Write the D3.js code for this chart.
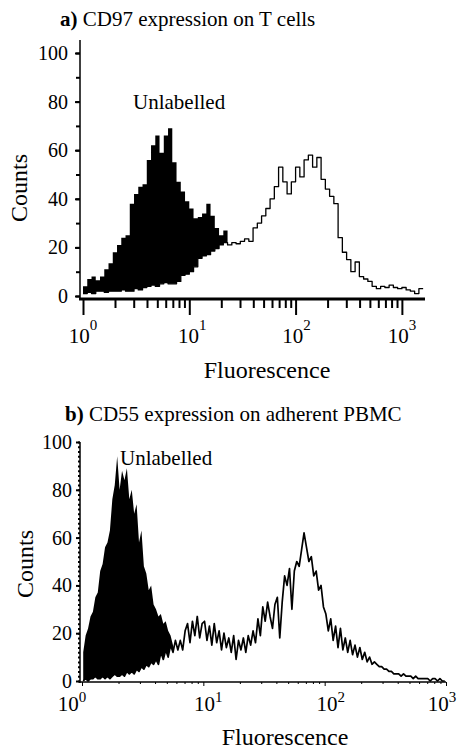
<!DOCTYPE html>
<html>
<head>
<meta charset="utf-8">
<script src="https://cdnjs.cloudflare.com/ajax/libs/d3/7.8.5/d3.min.js"></script>
<style>
  body { margin: 0; background: #fff; }
  svg text { font-family: 'Liberation Serif', 'Times New Roman', serif; fill: #000; }
</style>
</head>
<body>
<div id="chart"></div>
<script>
// Flow cytometry histograms, counts per log channel.
// Each bin is binWidth decades wide, starting at 10^0.

// a) CD97 on T cells
var cd97BinWidth = 0.04;
var cd97Unlabelled = [
  4, 7, 8, 6.5, 8, 11, 13.5, 18, 21, 24,
  25, 38, 42, 45, 46, 56, 62, 66, 59, 66,
  69, 55, 47, 43, 39, 36, 32, 32.5, 34, 38,
  33, 28, 25, 27, 14, 8, 4, 2, 1, 0
];
var cd97Labelled = [
  1, 1.5, 1, 2, 2, 1.5, 2, 2, 2, 2.5,
  2, 2, 3, 2.5, 3.5, 4, 4.5, 4, 5, 5.5,
  5, 5, 6, 8.5, 9, 10, 12, 15.5, 16.5, 17,
  18.5, 19.5, 21, 22, 21, 22, 21.5, 22.5, 23.5, 22.5,
  28, 30, 33, 36, 40, 45, 53, 47, 42, 47,
  53, 49, 56, 58, 53, 57, 48, 44, 41, 38,
  24, 18, 15, 10, 14, 8, 7, 6, 4, 3,
  4, 3.5, 4.5, 3.5, 3, 3.5, 2.5, 2, 1, 3
];

// b) CD55 on adherent PBMC
var cd55BinWidth = 0.02;
var cd55Unlabelled = [
  12, 19, 22, 27, 29, 35, 37, 46, 49, 56,
  58, 63, 76, 82, 94, 80, 88, 84, 89, 76,
  80, 70, 74, 58, 63, 48, 45, 38, 40, 32,
  30, 27, 28, 24, 25, 21, 19, 15, 12, 8,
  5, 3, 2, 1, 0
];
var cd55Labelled = [
  0, 1, 0, 1, 1, 2, 1, 1, 2, 1,
  2, 1, 2, 3, 2, 2, 3, 2, 4, 3,
  4, 3, 5, 4, 6, 5, 7, 6, 8, 7,
  9, 7, 12, 9, 13, 10, 15, 12, 17, 13,
  17, 13, 21, 24, 16, 25, 19, 27, 18, 24,
  25, 17, 23, 15, 24, 16, 21, 13, 20, 14,
  18, 12, 19, 9, 17, 13, 18, 12, 19, 15,
  21, 16, 26, 19, 31, 25, 33, 27, 22, 32,
  35, 18, 33, 44, 40, 47, 30, 46, 50, 48,
  55, 62, 56, 50, 52, 44, 46, 38, 40, 31,
  28, 21, 26, 17, 23, 14, 22, 13, 18, 12,
  17, 11, 15, 10, 14, 9, 12, 8, 10, 7,
  8, 7, 6, 6, 5, 5, 4, 4, 3, 3,
  3, 2, 3, 2, 2, 2, 1, 2, 1, 1,
  1, 1, 1, 0, 1, 1, 0, 1, 0, 0
];

var countTicks = [0, 20, 40, 60, 80, 100];
var decadeTicks = [1, 10, 100, 1000];
var decadeExponents = ['0', '1', '2', '3'];


HistogramVis = function(_svg, _config) {
  this.svg = _svg;
  this.config = _config;

  this.initVis();
};

HistogramVis.prototype.initVis = function() {
  var vis = this;
  var c = vis.config;

  vis.x = d3.scaleLog().domain([1, c.xMax]).range([c.left, c.right]);
  vis.y = d3.scaleLinear().domain([0, 100]).range([c.bottom, c.top]);

  vis.g = vis.svg.append('g');

  vis.updateVis();
  vis.drawAxes();
};

HistogramVis.prototype.binPoints = function(counts) {
  var vis = this;
  var bw = vis.config.binWidth;
  var pts;

  if (vis.config.steps) {
    pts = counts.map((v, i) => ({ f: Math.pow(10, i * bw), v: v }));
    pts.push({ f: Math.pow(10, counts.length * bw), v: counts[counts.length - 1] });
  } else {
    pts = counts.map((v, i) => ({ f: Math.pow(10, (i + 0.5) * bw), v: v }));
  }
  return pts;
};

HistogramVis.prototype.updateVis = function() {
  var vis = this;
  var c = vis.config;
  var curve = c.steps ? d3.curveStepAfter : d3.curveLinear;

  var area = d3.area()
    .curve(curve)
    .x(d => vis.x(d.f))
    .y0(vis.y(0))
    .y1(d => vis.y(d.v));

  var line = d3.line()
    .curve(curve)
    .x(d => vis.x(d.f))
    .y(d => vis.y(d.v));

  var unl = vis.binPoints(c.unlabelled);
  var lab = vis.binPoints(c.labelled);

  // unlabelled control, solid black
  vis.g.append('path')
    .datum(unl)
    .attr('d', area)
    .attr('fill', '#000');

  // labelled sample drawn over it, white inside, black outline
  vis.g.append('path')
    .datum(lab)
    .attr('d', area)
    .attr('fill', '#fff');

  vis.g.append('path')
    .datum(lab)
    .attr('d', line)
    .attr('fill', 'none')
    .attr('stroke', '#000')
    .attr('stroke-width', c.lineWidth)
    .attr('stroke-linejoin', 'round');

  vis.g.append('text')
    .attr('x', c.unlabelledPos[0])
    .attr('y', c.unlabelledPos[1])
    .attr('font-size', 21)
    .text('Unlabelled');
};

HistogramVis.prototype.drawAxes = function() {
  var vis = this;
  var c = vis.config;

  // minor ticks 2..9 inside each decade
  var minorX = [];
  [1, 10, 100, 1000].forEach(d => {
    for (var k = 2; k < 10; k++) {
      if (d * k <= c.xMax) minorX.push(d * k);
    }
  });

  var xMinor = d3.axisBottom(vis.x).tickValues(minorX).tickSize(c.xMinorLen).tickSizeOuter(0).tickFormat('');
  var xMajor = d3.axisBottom(vis.x).tickValues(decadeTicks).tickSize(c.xMajorLen).tickSizeOuter(0).tickFormat('');

  [xMinor, xMajor].forEach(ax => {
    var g = vis.g.append('g')
      .attr('transform', 'translate(0,' + c.xAxisY + ')')
      .call(ax);
    g.select('.domain').remove();
    g.selectAll('line').attr('stroke', '#000').attr('stroke-width', c.xTickWidth);
  });

  var yMinorVals = d3.range(0, 101, c.yMinorStep);
  var yMinor = d3.axisLeft(vis.y).tickValues(yMinorVals).tickSize(c.yMinorLen).tickSizeOuter(0).tickFormat('');
  var yMajor = d3.axisLeft(vis.y).tickValues(countTicks).tickSize(c.yMajorLen).tickSizeOuter(0).tickFormat('');

  [yMinor, yMajor].forEach(ax => {
    var g = vis.g.append('g')
      .attr('transform', 'translate(' + c.yAxisX + ',0)')
      .call(ax);
    g.select('.domain').remove();
    g.selectAll('line').attr('stroke', '#000').attr('stroke-width', 2);
  });

  // axis lines
  vis.g.append('line')
    .attr('x1', c.yAxisX).attr('x2', c.yAxisX)
    .attr('y1', c.yAxisTop).attr('y2', c.xAxisY + 1)
    .attr('stroke', '#000').attr('stroke-width', 1.5);

  vis.g.append('line')
    .attr('x1', c.yAxisX - 1).attr('x2', c.right)
    .attr('y1', c.xAxisY).attr('y2', c.xAxisY)
    .attr('stroke', '#000').attr('stroke-width', c.xLineWidth);

  // count labels
  vis.g.selectAll('.ylab')
    .data(countTicks)
    .enter()
    .append('text')
    .attr('class', 'ylab')
    .attr('x', c.yLabelX)
    .attr('y', d => vis.y(d))
    .attr('dy', '0.35em')
    .attr('text-anchor', 'end')
    .attr('font-size', 20)
    .text(d => d);

  // decade labels 10^n
  var xl = vis.g.selectAll('.xlab')
    .data(decadeTicks)
    .enter()
    .append('text')
    .attr('class', 'xlab')
    .attr('x', (d, i) => vis.x(d) + c.xLabelNudge[i])
    .attr('y', c.xLabelY)
    .attr('text-anchor', 'middle')
    .attr('font-size', 21);
  xl.append('tspan').text('10');
  xl.append('tspan')
    .attr('font-size', 15)
    .attr('dy', -c.expRaise)
    .text((d, i) => decadeExponents[i]);

  vis.g.append('text')
    .attr('x', c.xTitle[0])
    .attr('y', c.xTitle[1])
    .attr('text-anchor', 'middle')
    .attr('font-size', 24)
    .text('Fluorescence');

  vis.g.append('text')
    .attr('transform', 'translate(' + c.yTitle[0] + ',' + c.yTitle[1] + ') rotate(-90)')
    .attr('text-anchor', 'middle')
    .attr('font-size', 24)
    .text('Counts');

  var t = vis.g.append('text')
    .attr('x', c.titlePos[0])
    .attr('y', c.titlePos[1])
    .attr('font-size', 21);
  t.append('tspan').attr('font-weight', 'bold').text(c.letter);
  t.append('tspan').text(' ' + c.title);
};


var svg = d3.select('#chart').append('svg')
  .attr('width', 457)
  .attr('height', 749)
  .style('font-family', "'Liberation Serif', serif");

var panelA = new HistogramVis(svg, {
  letter: 'a)',
  title: 'CD97 expression on T cells',
  titlePos: [60, 26],
  unlabelled: cd97Unlabelled,
  labelled: cd97Labelled,
  binWidth: cd97BinWidth,
  steps: true,
  lineWidth: 1.3,
  xMax: 1650,
  left: 83, right: 425,
  top: 53, bottom: 296,
  yAxisX: 80, yAxisTop: 40,
  xAxisY: 299, xLineWidth: 3,
  xMajorLen: 16, xMinorLen: 9, xTickWidth: 2,
  yMajorLen: 5, yMinorLen: 4, yMinorStep: 10,
  yLabelX: 68,
  xLabelY: 343, xLabelNudge: [0, 3, 1, 0], expRaise: 13,
  xTitle: [267, 378],
  yTitle: [27, 188],
  unlabelledPos: [133, 109]
});

var panelB = new HistogramVis(svg, {
  letter: 'b)',
  title: 'CD55 expression on adherent PBMC',
  titlePos: [65, 421],
  unlabelled: cd55Unlabelled,
  labelled: cd55Labelled,
  binWidth: cd55BinWidth,
  steps: false,
  lineWidth: 1.7,
  xMax: 1000,
  left: 82, right: 446,
  top: 442, bottom: 681,
  yAxisX: 80, yAxisTop: 442,
  xAxisY: 682, xLineWidth: 1.5,
  xMajorLen: 4, xMinorLen: 2, xTickWidth: 1,
  yMajorLen: 4, yMinorLen: 2, yMinorStep: 2,
  yLabelX: 72,
  xLabelY: 711, xLabelNudge: [-10, 5, 6, -4], expRaise: 9,
  xTitle: [285, 745],
  yTitle: [33, 564],
  unlabelledPos: [120, 465]
});
</script>
</body>
</html>
